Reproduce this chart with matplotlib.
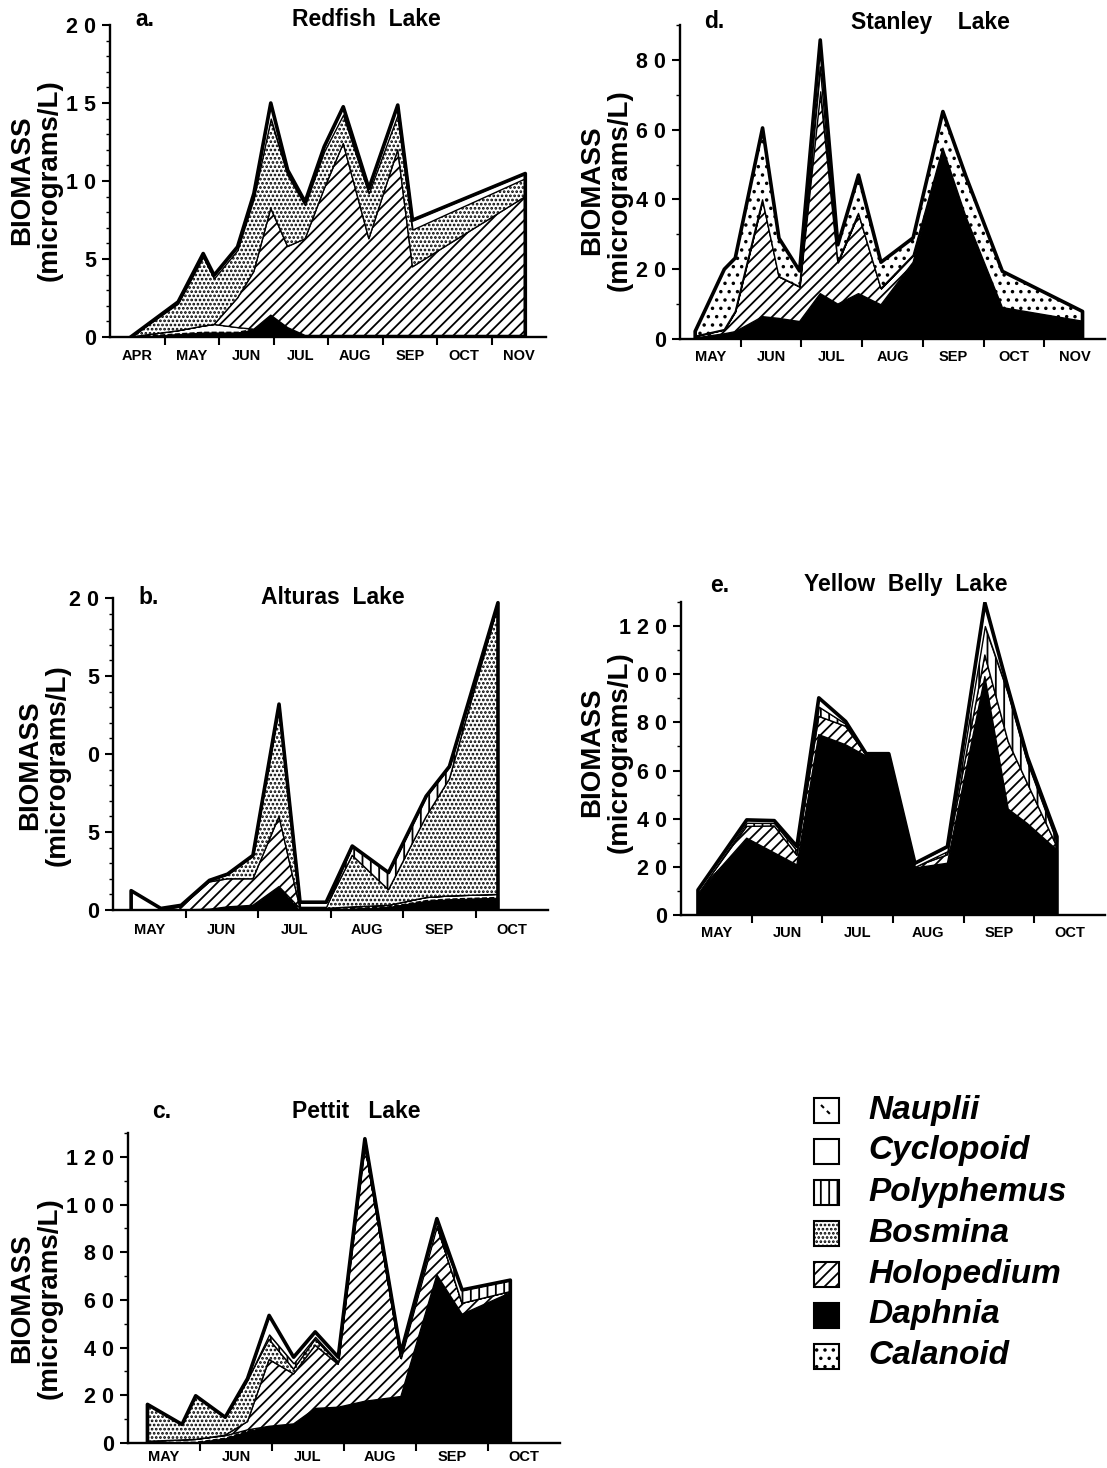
import numpy as np
import matplotlib
matplotlib.use('Agg')
import matplotlib.pyplot as plt
from matplotlib.patches import Rectangle
from matplotlib.lines import Line2D
from matplotlib.ticker import MultipleLocator

plt.rcParams['font.family'] = ['Liberation Sans', 'DejaVu Sans']
plt.rcParams['font.weight'] = 'bold'
plt.rcParams['hatch.linewidth'] = 1.3
plt.rcParams['hatch.color'] = 'black'

W, H = 1107, 1468

# ---------------- data (x = month number, 5.0 = 1 May) ----------------
# a. Redfish Lake
red_x = [4.38, 5.25, 5.71, 5.91, 6.34, 6.64, 6.95, 7.26, 7.58, 7.93, 8.28, 8.75, 9.28, 9.55, 11.62]
red_daphnia = [0, 0.2, 0.3, 0.3, 0.3, 0.5, 1.4, 0.6, 0.1, 0.1, 0.1, 0.1, 0.1, 0.1, 0.1]
red_nauplii = [0, 0.2, 0.4, 0.5, 0.3, 0, 0, 0, 0, 0, 0, 0, 0, 0, 0]
red_holopedium = [0, 0, 0, 0, 1.9, 3.7, 6.85, 5.2, 6.2, 9.4, 12.3, 6.2, 11.9, 4.4, 8.9]
red_bosmina = [0, 1.75, 4.45, 2.96, 3.08, 4.7, 5.75, 4.6, 2.16, 2.4, 1.86, 2.92, 2.27, 2.39, 1.18]
red_polyphemus = [0] * 15
red_cyclopoid = [0, 0.1, 0.2, 0.2, 0.2, 0.3, 1.0, 0.3, 0.2, 0.3, 0.5, 0.3, 0.6, 0.6, 0.3]
red_calanoid = [0] * 15

# b. Alturas Lake
alt_x = [5.25, 5.66, 5.94, 6.33, 6.58, 6.93, 7.29, 7.58, 7.94, 8.30, 8.80, 9.32, 9.64, 10.31]
alt_daphnia = [0, 0, 0, 0.05, 0.2, 0.3, 1.5, 0, 0, 0.1, 0.2, 0.6, 0.7, 0.8]
alt_nauplii = [0, 0, 0, 0, 0, 0, 0, 0.1, 0.1, 0.1, 0.1, 0.2, 0.2, 0.2]
alt_holopedium = [0, 0, 0.2, 1.75, 1.8, 1.7, 4.5, 0, 0, 0, 0, 0, 0, 0]
alt_bosmina = [0, 0, 0.1, 0.1, 0.3, 1.5, 7.0, 0.1, 0.1, 3.3, 1.0, 5.2, 7.5, 18.5]
alt_polyphemus = [0, 0, 0, 0, 0, 0, 0, 0, 0, 0.6, 1.1, 1.3, 0.8, 0.2]
alt_cyclopoid = [1.24, 0.1, 0, 0, 0, 0, 0.2, 0.3, 0.3, 0, 0, 0, 0, 0]
alt_calanoid = [0] * 14

# c. Pettit Lake
pet_x = [5.27, 5.75, 5.94, 6.35, 6.66, 6.96, 7.30, 7.60, 7.92, 8.29, 8.79, 9.29, 9.64, 10.31]
pet_daphnia = [0.3, 0.3, 0.3, 2, 5, 7, 8, 14.5, 15, 17.5, 19.5, 70.5, 54, 63]
pet_nauplii = [0.4, 1.0, 1.2, 1.0, 0.5, 0, 0, 0, 0, 0, 0, 0, 0, 0]
pet_holopedium = [0, 0, 0, 0.3, 3.5, 28, 21, 26.5, 18, 107.5, 16, 20.6, 4.6, 0.5]
pet_bosmina = [15.5, 6.5, 18.3, 7.5, 17.5, 8.5, 2, 2.5, 0.5, 0, 0, 0, 0, 0]
pet_polyphemus = [0, 0, 0, 0, 0, 2, 2.4, 1, 0.5, 0, 0, 0, 5.6, 4.8]
pet_cyclopoid = [0, 0, 0, 0, 0.5, 8, 2.6, 2.1, 2, 2.6, 2.2, 3, 0, 0]
pet_calanoid = [0] * 14

# d. Stanley Lake
stan_x = [5.25, 5.73, 5.91, 6.36, 6.63, 6.97, 7.31, 7.60, 7.94, 8.31, 8.84, 9.33, 9.71, 10.31, 11.63]
stan_daphnia = [0.3, 1.5, 2.1, 6.4, 5.9, 5, 13, 10, 13, 9.8, 22, 54.7, 35, 9, 5.1]
stan_nauplii = [0] * 15
stan_holopedium = [0.5, 1.2, 5.8, 33.5, 12, 10, 58, 12, 23, 4.7, 2, 0, 0, 0, 0]
stan_bosmina = [0] * 15
stan_polyphemus = [0] * 15
stan_cyclopoid = [0, 0, 0, 0, 0, 0, 7, 0, 0, 0, 0, 0, 0, 0, 0]
stan_calanoid = [1.4, 17.3, 15.3, 20.6, 11, 4.5, 7.7, 5, 11, 7.5, 5, 10.5, 11.6, 10.4, 2.8]

# e. Yellow Belly Lake
yb_x = [5.24, 5.93, 6.32, 6.64, 6.95, 7.33, 7.62, 7.94, 8.31, 8.77, 9.30, 9.63, 9.90, 10.32]
yb_daphnia = [9, 31.9, 25.8, 20.8, 74.9, 70.7, 66, 66.5, 19.5, 21.5, 99, 44, 38, 27]
yb_nauplii = [0] * 14
yb_holopedium = [0, 4.9, 11.2, 4.0, 7.6, 7.7, 0.5, 0, 0.5, 3.5, 9, 28, 16.8, 1.4]
yb_bosmina = [0] * 14
yb_polyphemus = [0, 1.5, 1.2, 2.0, 4.0, 1.0, 0, 0, 0, 1.5, 12, 20, 9, 2.1]
yb_cyclopoid = [1.4, 1.2, 1.0, 1.7, 3.7, 1.0, 0.5, 0.5, 1.5, 1.9, 9.7, 2, 2, 2.1]
yb_calanoid = [0] * 14

months_a = ['APR', 'MAY', 'JUN', 'JUL', 'AUG', 'SEP', 'OCT', 'NOV']
months_d = ['MAY', 'JUN', 'JUL', 'AUG', 'SEP', 'OCT', 'NOV']
months_bce = ['MAY', 'JUN', 'JUL', 'AUG', 'SEP', 'OCT']

ticks_a = [0, 5, 10, 15, 20]
ticklab_a = ['0', '5', '1 0', '1 5', '2 0']
ticks_b = [0, 5, 10, 15, 20]
ticklab_b = ['0', '5', '0', '5', '2 0']
ticks_c = [0, 20, 40, 60, 80, 100, 120]
ticklab_c = ['0', '2 0', '4 0', '6 0', '8 0', '1 0 0', '1 2 0']
ticks_d = [0, 20, 40, 60, 80]
ticklab_d = ['0', '2 0', '4 0', '6 0', '8 0']
ticks_e = [0, 20, 40, 60, 80, 100, 120]
ticklab_e = ['0', '2 0', '4 0', '6 0', '8 0', '0 0', '1 2 0']

species = ['Daphnia', 'Nauplii', 'Holopedium', 'Bosmina', 'Polyphemus', 'Cyclopoid', 'Calanoid']
styles = {
    'Daphnia': dict(fc='black', hatch=None, ls='-'),
    'Nauplii': dict(fc='white', hatch=None, ls='--'),
    'Holopedium': dict(fc='white', hatch='///', ls='-'),
    'Bosmina': dict(fc='white', hatch='....', ls='-'),
    'Polyphemus': dict(fc='white', hatch='||', ls='-'),
    'Cyclopoid': dict(fc='white', hatch=None, ls='-'),
    'Calanoid': dict(fc='white', hatch='..', ls='-'),
}

fig = plt.figure(figsize=(W / 100, H / 100), dpi=100)


def add_axes(left, right, y0, ytop):
    return fig.add_axes([left / W, 1 - y0 / H, (right - left) / W, (y0 - ytop) / H])


def draw(ax, x, layers, xlim, ylim, yticks, ylabels, yminor, months, mpad):
    x = np.asarray(x, float)
    base = np.zeros(len(x))
    for name, vals in zip(species, layers):
        vals = np.asarray(vals, float)
        if not np.any(vals):
            continue
        top = base + vals
        st = styles[name]
        ax.fill_between(x, base, top, facecolor=st['fc'], edgecolor='black',
                        hatch=st['hatch'], linewidth=1.0, linestyle=st['ls'], zorder=2)
        base = top
    ax.plot(np.r_[x[0], x, x[-1]], np.r_[0, base, 0], color='black', lw=2.6, zorder=4)
    ax.set_xlim(*xlim)
    ax.set_ylim(*ylim)
    ax.set_xticks(np.arange(xlim[0] + 1, xlim[1]))
    ax.set_xticklabels([])
    ax.set_xticks(np.arange(xlim[0], xlim[1]) + 0.5, minor=True)
    ax.set_xticklabels(months, minor=True)
    ax.tick_params(axis='x', which='major', length=6, width=1.5, direction='out')
    ax.tick_params(axis='x', which='minor', length=0, labelsize=10.5, pad=mpad)
    ax.set_yticks(yticks)
    ax.set_yticklabels(ylabels)
    ax.yaxis.set_minor_locator(MultipleLocator(yminor))
    ax.tick_params(axis='y', which='major', length=6, width=1.5, labelsize=15.5, pad=4)
    ax.tick_params(axis='y', which='minor', length=3, width=1)
    for s in ['top', 'right']:
        ax.spines[s].set_visible(False)
    for s in ['left', 'bottom']:
        ax.spines[s].set_linewidth(1.7)
    for lab in ax.get_xticklabels(minor=True) + ax.get_yticklabels():
        lab.set_fontweight('bold')


def ylabel(xc, yc):
    fig.text(xc / W, 1 - yc / H, 'BIOMASS\n(micrograms/L)', rotation=90, ha='center', va='center',
             fontsize=20, fontweight='bold', linespacing=1.05, multialignment='center')


def title(lx, ly, letter, tx, text):
    fig.text(lx / W, 1 - ly / H, letter, ha='left', va='center', fontsize=16.5, fontweight='bold')
    fig.text(tx / W, 1 - ly / H, text, ha='center', va='center', fontsize=16.5, fontweight='bold')


# a. Redfish
ax = add_axes(110, 546, 337, 25)
draw(ax, red_x, [red_daphnia, red_nauplii, red_holopedium, red_bosmina, red_polyphemus,
                 red_cyclopoid, red_calanoid], (4, 12), (0, 20), ticks_a, ticklab_a, 1, months_a, 9)
ylabel(36, 180)
title(135, 20, 'a.', 366, 'Redfish  Lake')

# d. Stanley
ax = add_axes(680, 1105, 339, 25)
draw(ax, stan_x, [stan_daphnia, stan_nauplii, stan_holopedium, stan_bosmina, stan_polyphemus,
                  stan_cyclopoid, stan_calanoid], (5, 12), (0, 90), ticks_d, ticklab_d, 10, months_d, 8)
ylabel(606, 190)
title(704, 22, 'd.', 930, 'Stanley    Lake')

# b. Alturas
ax = add_axes(113, 548, 910, 598)
draw(ax, alt_x, [alt_daphnia, alt_nauplii, alt_holopedium, alt_bosmina, alt_polyphemus,
                 alt_cyclopoid, alt_calanoid], (5, 11), (0, 20), ticks_b, ticklab_b, 1, months_bce, 9)
ylabel(44, 765)
title(138, 598, 'b.', 333, 'Alturas  Lake')

# e. Yellow Belly
ax = add_axes(681, 1105, 915, 602)
draw(ax, yb_x, [yb_daphnia, yb_nauplii, yb_holopedium, yb_bosmina, yb_polyphemus,
                yb_cyclopoid, yb_calanoid], (5, 11), (0, 130), ticks_e, ticklab_e, 10, months_bce, 8)
ylabel(606, 752)
title(710, 585, 'e.', 906, 'Yellow  Belly  Lake')

# c. Pettit
ax = add_axes(128, 560, 1443, 1133)
draw(ax, pet_x, [pet_daphnia, pet_nauplii, pet_holopedium, pet_bosmina, pet_polyphemus,
                 pet_cyclopoid, pet_calanoid], (5, 11), (0, 130), ticks_c, ticklab_c, 10, months_bce, 5)
ylabel(36, 1298)
title(152, 1112, 'c.', 356, 'Pettit   Lake')

# legend
legend_names = ['Nauplii', 'Cyclopoid', 'Polyphemus', 'Bosmina', 'Holopedium', 'Daphnia', 'Calanoid']
bx, bw = 814, 25
for i, name in enumerate(legend_names):
    yc = 1110 + 41 * i
    st = styles[name]
    r = Rectangle((bx / W, 1 - (yc + bw / 2) / H), bw / W, bw / H, transform=fig.transFigure,
                  facecolor=st['fc'], edgecolor='black', hatch=st['hatch'], linewidth=1.5)
    fig.add_artist(r)
    if name == 'Nauplii':
        fig.add_artist(Line2D([(bx + 7) / W, (bx + 18) / W], [1 - (yc - 5) / H, 1 - (yc + 6) / H],
                              transform=fig.transFigure, color='black', lw=1.5, linestyle=(0, (2, 2))))
    fig.text(868 / W, 1 - yc / H, name, ha='left', va='center', fontsize=24,
             fontweight='bold', fontstyle='italic')

fig.savefig('out.png', dpi=100)
